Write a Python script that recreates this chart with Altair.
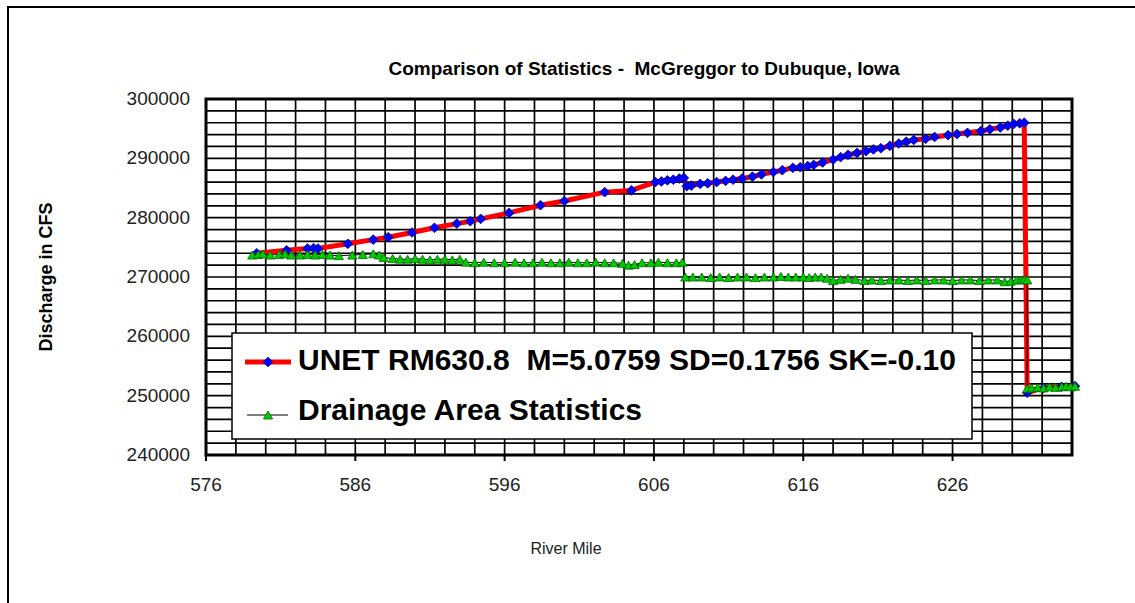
import altair as alt
import pandas as pd

# ---- data ----
unet_mile = [579.4, 581.4, 582.8, 583.2, 583.5, 585.5, 587.2, 588.2, 589.8, 591.3, 592.8, 593.7, 594.4,
             596.3, 598.4, 600.0, 602.7, 604.5,
             606.1, 606.5, 606.9, 607.3, 607.7, 608.0, 608.2, 608.5, 609.1, 609.6, 610.2, 610.8, 611.3,
             611.9, 612.6, 613.2, 614.0, 614.6, 615.3, 615.8, 616.3, 616.7, 617.3, 618.0, 618.5, 619.0,
             619.6, 620.2, 620.7, 621.2, 621.8, 622.4, 622.9, 623.4, 624.2, 624.8, 625.7, 626.3, 627.0,
             627.9, 628.5, 629.2, 629.7, 630.1, 630.5, 630.8,
             631.0, 632.1, 633.3, 634.2]
unet_q = [274000, 274500, 274800, 274850, 274800, 275600, 276300, 276700, 277500, 278300, 279000, 279400, 279800,
          280800, 282100, 282800, 284300, 284600,
          286000, 286100, 286300, 286400, 286600, 286700, 285300, 285400, 285700, 285800, 286000, 286200, 286400,
          286600, 286900, 287300, 287700, 288000, 288400, 288500, 288700, 288900, 289300, 289800, 290200, 290600,
          290900, 291200, 291500, 291700, 292100, 292500, 292800, 293100, 293300, 293600, 293900, 294100, 294300,
          294600, 294900, 295200, 295500, 295800, 295900, 296000,
          250500, 251300, 251500, 251600]

drain_mile = [579.1, 579.5, 579.8, 580.3, 580.9, 581.3, 581.7, 582.3, 582.8, 583.3, 583.8, 584.3, 584.9,
              585.8, 586.5, 587.2, 587.6,
              587.9, 588.5, 589.0, 589.5, 590.0, 590.5, 591.0, 591.5, 592.0, 592.5, 593.0,
              593.4, 594.0, 594.6, 595.3, 596.0, 596.7, 597.3, 597.9, 598.5, 599.1, 599.7, 600.3, 600.9,
              601.5, 602.1, 602.7, 603.3, 603.9, 604.3, 604.7, 605.2, 605.8, 606.3, 606.9, 607.5, 607.9,
              608.1, 608.6, 609.2, 609.8, 610.4, 611.0, 611.6, 612.2, 612.8, 613.4, 614.0, 614.5, 615.0,
              615.5, 616.0, 616.4, 616.8, 617.2, 617.6, 618.0, 618.5, 619.0, 619.5,
              620.1, 620.6, 621.2, 621.8, 622.4, 623.0, 623.6, 624.2, 624.8, 625.4, 626.0, 626.6, 627.2,
              627.8, 628.4, 629.0, 629.5, 629.9, 630.3, 630.6, 630.8, 631.0,
              631.0, 631.3, 631.7, 632.1, 632.5, 632.9, 633.3, 633.6, 633.9, 634.2]
drain_q = [273700, 273800, 273900, 273700, 273800, 273900, 273700, 273700, 273800, 273700, 273800, 273700, 273600,
           273700, 273800, 273900, 273700,
           273300, 273100, 273000, 273000, 273100, 273000, 272900, 273000, 273000, 272900, 273000,
           272500, 272400, 272500, 272400, 272400, 272500, 272400, 272400, 272500, 272400, 272400, 272500, 272400,
           272400, 272500, 272400, 272400, 272300, 272000, 272100, 272400, 272400, 272500, 272400, 272400, 272500,
           270000, 270000, 270000, 269900, 270000, 269900, 270000, 270000, 269900, 270000, 270000, 270100, 270000,
           270000, 270000, 269900, 270000, 270000, 269800, 269400, 269600, 269800, 269600,
           269400, 269500, 269400, 269500, 269500, 269400, 269500, 269400, 269500, 269500, 269400, 269500, 269500,
           269400, 269500, 269500, 269200, 269300, 269500, 269500, 269600, 269500,
           251200, 251300, 251400, 251300, 251500, 251400, 251500, 251600, 251500, 251600]

x_major = [576, 586, 596, 606, 616, 626]    # labelled ticks
x_grid = list(range(576, 636, 2))          # grid every 2 miles
y_major = [240000, 250000, 260000, 270000, 280000, 290000, 300000]
y_grid = list(range(240000, 302000, 2000))  # grid every 2000 cfs

title_text = "Comparison of Statistics -\u00a0 McGreggor to Dubuque, Iowa"
legend_labels = ["UNET RM630.8\u00a0 M=5.0759 SD=0.1756 SK=-0.10", "Drainage Area Statistics"]
y_title = "Discharge in CFS"
x_title = "River Mile"

FONT = "Liberation Sans"

df_u = pd.DataFrame({"mile": unet_mile, "q": unet_q, "i": range(len(unet_mile))})
df_d = pd.DataFrame({"mile": drain_mile, "q": drain_q, "i": range(len(drain_mile))})
df_xg = pd.DataFrame({"mile": x_grid})
df_yg = pd.DataFrame({"q": y_grid})
df_xm = pd.DataFrame({"mile": x_major, "lab": [str(v) for v in x_major]})
df_ym = pd.DataFrame({"q": y_major, "lab": [str(v) for v in y_major]})
one = pd.DataFrame({"a": [0]})

xs = alt.Scale(domain=[576, 634], nice=False, zero=False)
ys = alt.Scale(domain=[240000, 300000], nice=False, zero=False)


def X(f="mile:Q"):
    return alt.X(f, scale=xs, axis=None)


def Y(f="q:Q"):
    return alt.Y(f, scale=ys, axis=None)


# grid lines at the tick values
xg = alt.Chart(df_xg).mark_rule(color="black", strokeWidth=1.7).encode(
    x=X(), y=alt.value(0), y2=alt.value(356))
yg = alt.Chart(df_yg).mark_rule(color="black", strokeWidth=1.7).encode(
    y=Y(), x=alt.value(0), x2=alt.value(866))
# major x ticks below the plot
xt = alt.Chart(df_xm).mark_rule(color="black", strokeWidth=2).encode(
    x=X(), y=alt.value(356), y2=alt.value(362))
# tick labels
xl = alt.Chart(df_xm).mark_text(font=FONT, fontSize=19, color="#222222", align="center",
                                baseline="top").encode(x=X(), y=alt.value(377), text="lab:N")
yl = alt.Chart(df_ym).mark_text(font=FONT, fontSize=19, color="#222222", align="right",
                                baseline="middle").encode(y=Y(), x=alt.value(-16), text="lab:N")

u_line = alt.Chart(df_u).mark_line(color="#ff0000", strokeWidth=5).encode(
    x=X(), y=Y(), order="i:Q")
u_pts = alt.Chart(df_u).mark_point(shape="diamond", filled=True, size=95, fill="#0000ff",
                                   stroke="#00008b", strokeWidth=0.8, opacity=1).encode(x=X(), y=Y())
d_line = alt.Chart(df_d).mark_line(color="black", strokeWidth=1).encode(
    x=X(), y=Y(), order="i:Q")
d_pts = alt.Chart(df_d).mark_point(shape="triangle-up", filled=True, size=85, fill="#00cc00",
                                   stroke="#006400", strokeWidth=0.8, opacity=1).encode(x=X(), y=Y())

# plot border
border = alt.Chart(one).mark_rect(fillOpacity=0, stroke="black", strokeWidth=3).encode(
    x=alt.value(0), x2=alt.value(866), y=alt.value(0), y2=alt.value(356))

# legend box (inside plot area)
leg_box = alt.Chart(one).mark_rect(fill="white", stroke="black", strokeWidth=1.5).encode(
    x=alt.value(26), x2=alt.value(766), y=alt.value(234), y2=alt.value(340))
leg_l1 = alt.Chart(one).mark_rule(color="#ff0000", strokeWidth=5).encode(
    x=alt.value(39), x2=alt.value(85), y=alt.value(263))
leg_p1 = alt.Chart(one).mark_point(shape="diamond", filled=True, size=95, fill="#0000ff",
                                   stroke="#00008b", strokeWidth=0.8, opacity=1).encode(
    x=alt.value(62), y=alt.value(263))
leg_l2 = alt.Chart(one).mark_rule(color="black", strokeWidth=1).encode(
    x=alt.value(41), x2=alt.value(82), y=alt.value(316))
leg_p2 = alt.Chart(one).mark_point(shape="triangle-up", filled=True, size=85, fill="#00cc00",
                                   stroke="#006400", strokeWidth=0.8, opacity=1).encode(
    x=alt.value(62), y=alt.value(316))
leg_t1 = alt.Chart(one).mark_text(text=legend_labels[0], font=FONT, fontSize=30, fontWeight="bold",
                                  align="left", baseline="alphabetic", color="black").encode(
    x=alt.value(92), y=alt.value(271))
leg_t2 = alt.Chart(one).mark_text(text=legend_labels[1], font=FONT, fontSize=30, fontWeight="bold",
                                  align="left", baseline="alphabetic", color="black").encode(
    x=alt.value(92), y=alt.value(321))

# titles
t_main = alt.Chart(one).mark_text(text=title_text, font=FONT, fontSize=19, fontWeight="bold",
                                  align="center", baseline="alphabetic", color="black").encode(
    x=alt.value(438), y=alt.value(-24))
t_y = alt.Chart(one).mark_text(text=y_title, font=FONT, fontSize=18, fontWeight="bold", angle=270,
                               align="center", baseline="middle", color="black").encode(
    x=alt.value(-159), y=alt.value(178))
t_x = alt.Chart(one).mark_text(text=x_title, font=FONT, fontSize=16, align="center",
                               baseline="middle", color="#222222").encode(
    x=alt.value(360), y=alt.value(450))

# outer chart frame (only its left and top edges fall inside the picture)
frame = alt.Chart(one).mark_rect(fillOpacity=0, stroke="black", strokeWidth=2).encode(
    x=alt.value(-198), x2=alt.value(2000), y=alt.value(-92), y2=alt.value(2000))

chart = alt.layer(xg, yg, xt, xl, yl, border, u_line, u_pts, d_line, d_pts, leg_box, leg_l1, leg_p1,
                  leg_l2, leg_p2, leg_t1, leg_t2, t_main, t_y, t_x, frame).properties(
    width=866, height=356,
    autosize=alt.AutoSizeParams(type="none"),
    padding={"left": 206, "top": 99, "right": 63, "bottom": 148},
    background="white",
).configure_view(stroke=None)

chart.save("out.html", embed_options={"renderer": "svg", "actions": False})
